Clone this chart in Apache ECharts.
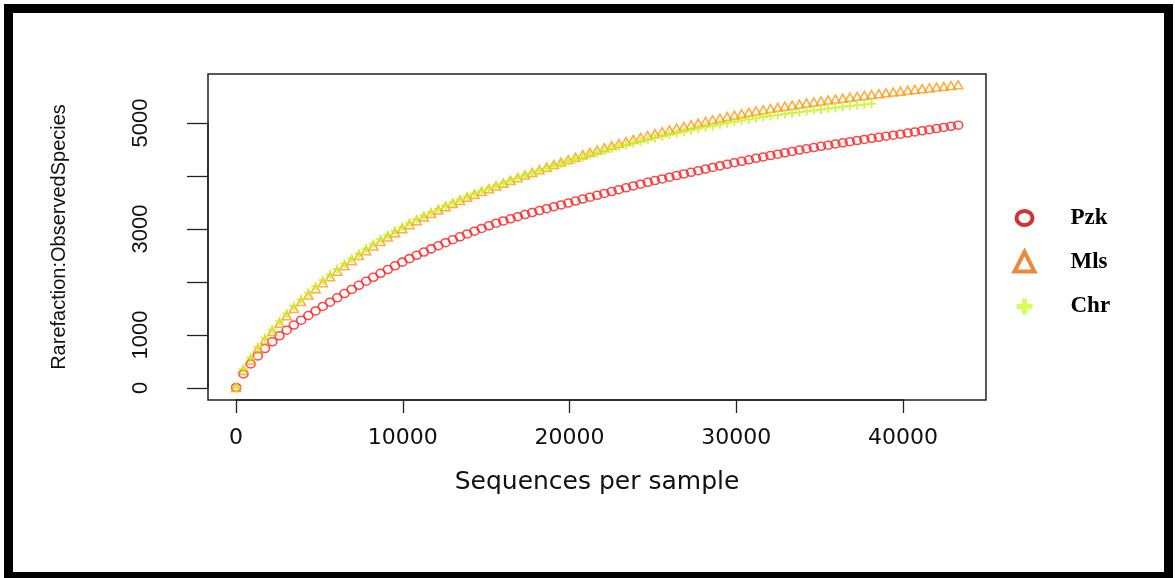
<!DOCTYPE html>
<html>
<head>
<meta charset="utf-8">
<title>Rarefaction curves</title>
<script src="https://cdn.jsdelivr.net/npm/echarts@6/dist/echarts.min.js"></script>
<style>
  html, body { margin: 0; padding: 0; background: #ffffff; }
  #chart { width: 1175px; height: 578px; }
</style>
</head>
<body>
<div id="chart"></div>
<script>
// Sampling depths (sequences per sample) of the rarefaction steps
const sequencesPerSample = [
  10, 443, 876, 1309, 1742, 2175, 2608, 3041, 3474, 3907,
  4340, 4773, 5206, 5639, 6072, 6505, 6938, 7371, 7804, 8237,
  8670, 9103, 9536, 9969, 10402, 10835, 11268, 11701, 12134, 12567,
  13000, 13433, 13866, 14299, 14732, 15165, 15598, 16031, 16464, 16897,
  17330, 17763, 18196, 18629, 19062, 19495, 19928, 20361, 20794, 21227,
  21660, 22093, 22526, 22959, 23392, 23825, 24258, 24691, 25124, 25557,
  25990, 26423, 26856, 27289, 27722, 28155, 28588, 29021, 29454, 29887,
  30320, 30753, 31186, 31619, 32052, 32485, 32918, 33351, 33784, 34217,
  34650, 35083, 35516, 35949, 36382, 36815, 37248, 37681, 38114, 38547,
  38980, 39413, 39846, 40279, 40712, 41145, 41578, 42011, 42444, 42877,
  43310
];

// Observed species at each depth
const pzk = [
  10, 265, 455, 605, 745, 872, 985, 1090, 1188, 1280,
  1368, 1454, 1538, 1620, 1701, 1781, 1860, 1938, 2014, 2089,
  2163, 2235, 2306, 2375, 2441, 2504, 2565, 2625, 2684, 2741,
  2797, 2852, 2906, 2959, 3011, 3061, 3110, 3152, 3193, 3233,
  3272, 3310, 3347, 3384, 3420, 3455, 3490, 3527, 3564, 3600,
  3636, 3672, 3707, 3742, 3777, 3812, 3846, 3880, 3913, 3945,
  3977, 4008, 4039, 4070, 4101, 4131, 4161, 4191, 4221, 4250,
  4278, 4306, 4333, 4360, 4386, 4412, 4438, 4464, 4490, 4514,
  4537, 4560, 4582, 4604, 4626, 4647, 4668, 4689, 4710, 4730,
  4750, 4770, 4790, 4811, 4832, 4853, 4874, 4895, 4916, 4937,
  4958
];

const mls = [
  10, 330, 530, 735, 905, 1065, 1220, 1365, 1500, 1630,
  1754, 1873, 1987, 2097, 2203, 2305, 2403, 2498, 2590, 2679,
  2765, 2848, 2928, 3006, 3082, 3155, 3225, 3292, 3357, 3420,
  3481, 3540, 3597, 3652, 3706, 3759, 3812, 3864, 3916, 3967,
  4018, 4068, 4118, 4167, 4215, 4263, 4310, 4356, 4402, 4447,
  4491, 4533, 4574, 4614, 4653, 4691, 4728, 4764, 4800, 4835,
  4869, 4902, 4935, 4967, 4999, 5030, 5061, 5091, 5120, 5148,
  5175, 5201, 5226, 5250, 5273, 5295, 5316, 5337, 5357, 5377,
  5396, 5415, 5433, 5451, 5469, 5486, 5503, 5520, 5537, 5553,
  5569, 5585, 5601, 5617, 5632, 5647, 5662, 5677, 5692, 5707,
  5722
];

const chr = [
  10, 360, 570, 775, 950, 1105, 1260, 1405, 1545, 1675,
  1799, 1918, 2031, 2141, 2246, 2348, 2445, 2540, 2631, 2720,
  2805, 2888, 2967, 3044, 3118, 3189, 3257, 3322, 3384, 3444,
  3502, 3558, 3612, 3664, 3715, 3765, 3815, 3864, 3913, 3961,
  4008, 4054, 4100, 4145, 4189, 4233, 4276, 4318, 4359, 4399,
  4439, 4477, 4514, 4550, 4585, 4619, 4652, 4684, 4716, 4747,
  4777, 4806, 4835, 4863, 4891, 4918, 4945, 4971, 4997, 5022,
  5046, 5069, 5091, 5112, 5132, 5151, 5169, 5187, 5205, 5223,
  5240, 5257, 5273, 5289, 5305, 5320, 5335, 5350, 5365
];

const seriesNames = ['Pzk', 'Mls', 'Chr'];
const xTickLabels = ['0', '10000', '20000', '30000', '40000'];
const yTickLabels = ['0', '1000', '3000', '5000'];

// pair each observed count with its sampling depth
function toPoints(values) {
  return values.map((v, i) => [sequencesPerSample[i], v]);
}

const axisColor = '#222222';
const narrowSans = '"Liberation Sans Narrow", "Liberation Sans", Arial, sans-serif';
const wideSans = '"DejaVu Sans", Verdana, sans-serif';
const serifBold = '"Liberation Serif", "Times New Roman", serif';

const chart = echarts.init(document.getElementById('chart'), null, { renderer: 'canvas' });

const option = {
  animation: false,
  backgroundColor: '#ffffff',
  grid: [
    // data area: spans 0..40000 and 0..5000
    { left: 236, right: 272, top: 123, bottom: 190 },
    // surrounding plot box
    { left: 208, right: 189, top: 74, bottom: 178, show: true,
      borderColor: axisColor, borderWidth: 1.5, backgroundColor: 'transparent' }
  ],
  xAxis: [
    {
      type: 'value', gridIndex: 0, min: 0, max: 40000, interval: 10000,
      position: 'bottom', offset: 12,
      axisLine: { show: true, onZero: false, lineStyle: { color: axisColor, width: 1.5 } },
      axisTick: { show: true, length: 13, lineStyle: { color: axisColor, width: 1.3 } },
      axisLabel: {
        margin: 27, fontFamily: wideSans, fontSize: 22, color: '#111111',
        formatter: v => (xTickLabels.includes(String(v)) ? String(v) : '')
      },
      splitLine: { show: false }
    },
    {
      type: 'value', gridIndex: 1, min: 0, max: 1,
      axisLine: { show: false }, axisTick: { show: false },
      axisLabel: { show: false }, splitLine: { show: false },
      name: 'Sequences per sample', nameLocation: 'middle', nameGap: 70,
      nameTextStyle: { fontFamily: wideSans, fontSize: 25, color: '#111111' }
    }
  ],
  yAxis: [
    {
      type: 'value', gridIndex: 0, min: 0, max: 5000, interval: 1000,
      position: 'left', offset: 28,
      axisLine: { show: true, onZero: false, lineStyle: { color: axisColor, width: 1.5 } },
      axisTick: { show: true, length: 21, lineStyle: { color: axisColor, width: 1.3 } },
      axisLabel: {
        rotate: 90, margin: 56, fontFamily: narrowSans, fontSize: 22, color: '#111111',
        formatter: v => (yTickLabels.includes(String(v)) ? String(v) : '')
      },
      splitLine: { show: false }
    },
    {
      type: 'value', gridIndex: 1, min: 0, max: 1,
      axisLine: { show: false }, axisTick: { show: false },
      axisLabel: { show: false }, splitLine: { show: false },
      name: 'Rarefaction:ObservedSpecies', nameLocation: 'middle', nameRotate: 90, nameGap: 139,
      nameTextStyle: { fontFamily: narrowSans, fontSize: 20, color: '#111111' }
    }
  ],
  legend: {
    orient: 'vertical', left: 1007, top: 201, padding: 0,
    itemWidth: 30, itemHeight: 30, itemGap: 10,
    selectedMode: false,
    textStyle: { fontFamily: serifBold, fontWeight: 'bold', fontSize: 23, color: '#000000', padding: [0, 0, 0, 26] },
    data: [
      { name: seriesNames[0],
        icon: 'path://M0,0M30,30M7,15A8,7 0 1,0 23,15A8,7 0 1,0 7,15Z',
        itemStyle: { color: 'rgba(0,0,0,0)', borderColor: '#c40000', borderWidth: 4 } },
      { name: seriesNames[1],
        icon: 'path://M0,0M30,30M15,5L25,24.5L5,24.5Z',
        itemStyle: { color: 'rgba(0,0,0,0)', borderColor: '#e66c0a', borderWidth: 4 } },
      { name: seriesNames[2],
        icon: 'path://M0,0M30,30M7,15L23,15M15,7L15,23',
        itemStyle: { color: 'rgba(0,0,0,0)', borderColor: '#ccff33', borderWidth: 5 } }
    ]
  },
  series: [
    {
      name: seriesNames[0], type: 'scatter', xAxisIndex: 0, yAxisIndex: 0,
      data: toPoints(pzk), clip: false,
      symbol: 'circle', symbolSize: [9, 8],
      itemStyle: { color: 'rgba(0,0,0,0)', borderColor: '#ff1c1c', borderWidth: 1.6 },
      emphasis: { disabled: true }
    },
    {
      name: seriesNames[1], type: 'scatter', xAxisIndex: 0, yAxisIndex: 0,
      data: toPoints(mls), clip: false,
      symbol: 'triangle', symbolSize: [9, 8],
      itemStyle: { color: 'rgba(0,0,0,0)', borderColor: '#ff9a10', borderWidth: 1.6 },
      emphasis: { disabled: true }
    },
    {
      name: seriesNames[2], type: 'scatter', xAxisIndex: 0, yAxisIndex: 0,
      data: toPoints(chr), clip: false,
      symbol: 'path://M0,5L10,5M5,0L5,10', symbolSize: [9, 9],
      itemStyle: { color: 'rgba(0,0,0,0)', borderColor: '#c6f21a', borderWidth: 2 },
      emphasis: { disabled: true }
    }
  ],
  graphic: [
    {
      // heavy outer frame
      type: 'rect', silent: true, z: 100,
      shape: { x: 8.5, y: 8.5, width: 1160, height: 568 },
      style: { fill: 'none', stroke: '#000000', lineWidth: 9 }
    }
  ]
};

chart.setOption(option);
</script>
</body>
</html>
